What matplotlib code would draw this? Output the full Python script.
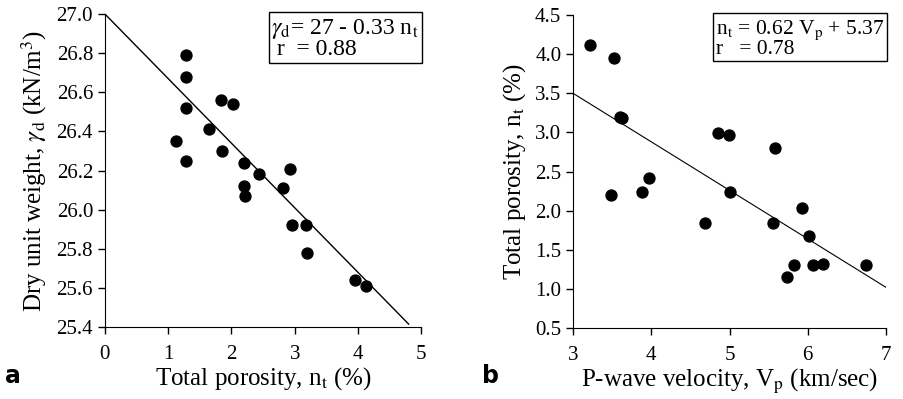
import numpy as np
import matplotlib
matplotlib.use("Agg")
import matplotlib.pyplot as plt

plt.rcParams['font.family'] = ['Liberation Serif', 'DejaVu Serif']
plt.rcParams['mathtext.fontset'] = 'stix'

# panel a: dry unit weight vs total porosity
nt_a = [1.28, 1.28, 1.29, 1.83, 2.02, 1.12, 1.28, 1.65, 1.85, 2.20,
        2.43, 2.20, 2.22, 2.82, 2.93, 2.95, 3.18, 3.20, 3.95, 4.12]
gd_a = [26.79, 26.68, 26.52, 26.56, 26.54, 26.35, 26.25, 26.41, 26.30, 26.24,
        26.18, 26.12, 26.07, 26.11, 26.21, 25.92, 25.92, 25.78, 25.64, 25.61]
fit_a = (27.0, -0.33)   # intercept, slope

# panel b: total porosity vs P-wave velocity
vp_b = [3.22, 3.52, 3.60, 3.62, 3.48, 3.88, 3.97, 4.85, 4.99, 5.00,
        4.68, 5.58, 5.55, 5.93, 6.02, 5.83, 5.73, 6.07, 6.20, 6.75]
nt_b = [4.12, 3.95, 3.20, 3.18, 2.20, 2.24, 2.42, 2.99, 2.97, 2.24,
        1.84, 2.80, 1.84, 2.04, 1.67, 1.31, 1.15, 1.31, 1.32, 1.31]
fit_b = (5.36, -0.62)

fig = plt.figure(figsize=(9.04, 3.99), dpi=100)
ax1 = fig.add_axes([0.116, 0.180, 0.350, 0.785])
ax2 = fig.add_axes([0.634, 0.178, 0.346, 0.784])

def style(ax):
    for s in ['top', 'right']:
        ax.spines[s].set_visible(False)
    ax.tick_params(direction='out', length=5, width=1, labelsize=15)
    ax.tick_params(axis='x', pad=8)

# left
ax1.scatter(nt_a, gd_a, s=62, color='black', zorder=3)
xl = np.array([0, 4.8])
ax1.plot(xl, fit_a[0] + fit_a[1] * xl, color='black', lw=1)
ax1.set_xlim(0, 5)
ax1.set_ylim(25.4, 27.0)
ax1.set_xticks(range(0, 6))
ax1.set_yticks(np.arange(25.4, 27.01, 0.2))
ax1.set_yticklabels(['%.1f' % v for v in np.arange(25.4, 27.01, 0.2)])
ax1.set_xlabel(r'Total porosity, n$_{\rm t}$ (%)', fontsize=18, labelpad=1)
ax1.set_ylabel(r'Dry unit weight, $\gamma_{\rm d}$ (kN/m$^3$)', fontsize=18, labelpad=5)
ax1.text(0.993, 0.99, '$\\gamma_{\\rm d}$= 27 - 0.33 n$_{\\rm t}$\n r  = 0.88',
         transform=ax1.transAxes, ha='right', va='top', multialignment='left',
         fontsize=17, linespacing=0.85,
         bbox=dict(boxstyle='square,pad=0.12', fc='white', ec='black', lw=1))
style(ax1)

# right
ax2.scatter(vp_b, nt_b, s=62, color='black', zorder=3)
xr = np.array([3, 7])
ax2.plot(xr, fit_b[0] + fit_b[1] * xr, color='black', lw=0.8)
ax2.set_xlim(3, 7)
ax2.set_ylim(0.5, 4.5)
ax2.set_xticks(range(3, 8))
ax2.set_yticks(np.arange(0.5, 4.51, 0.5))
ax2.set_yticklabels(['%.1f' % v for v in np.arange(0.5, 4.51, 0.5)])
ax2.set_xlabel(r'P-wave velocity, V$_{\rm p}$ (km/sec)', fontsize=18, labelpad=1)
ax2.set_ylabel(r'Total porosity, n$_{\rm t}$ (%)', fontsize=18, labelpad=5)
ax2.text(0.995, 0.99, 'n$_{\\rm t}$ = 0.62 V$_{\\rm p}$ + 5.37\nr   = 0.78',
         transform=ax2.transAxes, ha='right', va='top', multialignment='left',
         fontsize=15.5, linespacing=0.85,
         bbox=dict(boxstyle='square,pad=0.12', fc='white', ec='black', lw=1))
style(ax2)

fig.text(0.006, 0.04, 'a', fontsize=17, fontweight='bold', family='DejaVu Sans')
fig.text(0.533, 0.04, 'b', fontsize=17, fontweight='bold', family='DejaVu Sans')

fig.savefig('out.png', dpi=100)
